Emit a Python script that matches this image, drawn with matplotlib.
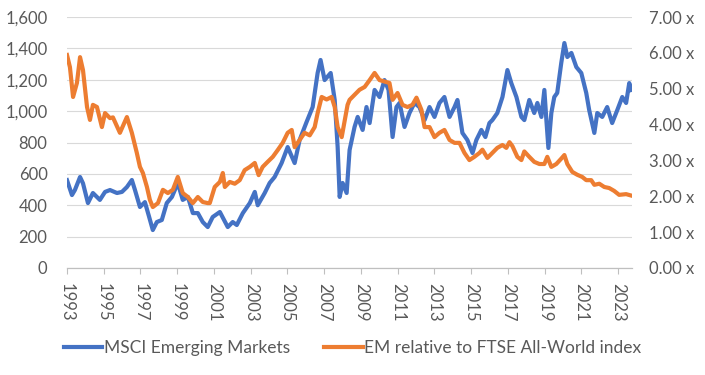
import matplotlib
matplotlib.use("Agg")
import matplotlib.pyplot as plt
from matplotlib.ticker import FuncFormatter

# MSCI Emerging Markets (left axis), decimal years
em_years = [1993.00, 1993.27, 1993.43, 1993.71, 1993.87, 1994.14, 1994.41, 1994.79, 1995.07, 1995.34,
            1995.72, 1995.99, 1996.26, 1996.53, 1996.70, 1996.97, 1997.24, 1997.46, 1997.67, 1997.89,
            1998.16, 1998.43, 1998.71, 1999.03, 1999.30, 1999.58, 1999.85, 2000.12, 2000.39, 2000.66,
            2000.93, 2001.32, 2001.75, 2002.02, 2002.24, 2002.57, 2002.95, 2003.22, 2003.38, 2003.76,
            2004.03, 2004.30, 2004.68, 2005.01, 2005.39, 2005.66, 2006.04, 2006.37, 2006.64, 2006.80,
            2007.02, 2007.35, 2007.57, 2007.73, 2007.84, 2008.00, 2008.22, 2008.38, 2008.65, 2008.82,
            2009.09, 2009.30, 2009.47, 2009.74, 2010.01, 2010.28, 2010.50, 2010.72, 2010.93, 2011.10,
            2011.37, 2011.64, 2011.91, 2012.18, 2012.46, 2012.73, 2013.00, 2013.27, 2013.54, 2013.82,
            2014.09, 2014.25, 2014.52, 2014.79, 2015.07, 2015.28, 2015.55, 2015.77, 2015.99, 2016.15,
            2016.42, 2016.70, 2016.97, 2017.18, 2017.46, 2017.73, 2017.89, 2018.16, 2018.43, 2018.60,
            2018.82, 2018.98, 2019.09, 2019.20, 2019.36, 2019.52, 2019.68, 2019.90, 2020.07, 2020.23,
            2020.45, 2020.72, 2020.99, 2021.26, 2021.42, 2021.70, 2021.86, 2022.13, 2022.40, 2022.67,
            2022.95, 2023.22, 2023.43, 2023.60, 2023.71]
em_values = [560, 465, 497, 580, 540, 414, 478, 434, 485, 497,
             478, 485, 516, 561, 497, 389, 420, 330, 242, 293,
             306, 414, 453, 542, 434, 453, 350, 350, 293, 261,
             325, 357, 261, 293, 274, 350, 414, 485, 400, 478,
             542, 580, 669, 771, 669, 816, 931, 1026, 1243, 1326,
             1198, 1243, 1071, 771, 453, 542, 478, 752, 899, 963,
             880, 1026, 924, 1135, 1090, 1198, 1135, 835, 1026, 1052,
             899, 988, 1052, 1026, 943, 1026, 963, 1052, 1090, 963,
             1026, 1071, 861, 816, 733, 816, 880, 835, 924, 943,
             988, 1090, 1262, 1179, 1090, 963, 943, 1071, 988, 1052,
             963, 1135, 943, 765, 988, 1090, 1116, 1307, 1434, 1345,
             1371, 1281, 1243, 1116, 1007, 861, 988, 963, 1026, 924,
             1007, 1090, 1052, 1179, 1135]

# EM relative to FTSE All-World index (right axis)
rel_years = [1993.00, 1993.16, 1993.33, 1993.54, 1993.71, 1993.87, 1994.09, 1994.25, 1994.41, 1994.63,
             1994.90, 1995.07, 1995.34, 1995.50, 1995.88, 1996.26, 1996.53, 1996.80, 1996.97, 1997.13,
             1997.35, 1997.51, 1997.67, 1997.95, 1998.22, 1998.49, 1998.76, 1999.03, 1999.30, 1999.58,
             1999.85, 2000.12, 2000.39, 2000.66, 2000.77, 2001.04, 2001.32, 2001.48, 2001.59, 2001.86,
             2002.13, 2002.40, 2002.67, 2002.95, 2003.22, 2003.43, 2003.65, 2003.92, 2004.20, 2004.47,
             2004.74, 2005.01, 2005.23, 2005.39, 2005.66, 2005.93, 2006.21, 2006.48, 2006.64, 2006.86,
             2007.13, 2007.40, 2007.57, 2007.73, 2007.95, 2008.11, 2008.27, 2008.38, 2008.65, 2008.92,
             2009.20, 2009.47, 2009.74, 2010.01, 2010.28, 2010.55, 2010.72, 2010.99, 2011.26, 2011.53,
             2011.80, 2012.02, 2012.29, 2012.46, 2012.73, 2013.00, 2013.27, 2013.54, 2013.82, 2014.09,
             2014.36, 2014.63, 2014.90, 2015.17, 2015.45, 2015.61, 2015.88, 2016.15, 2016.42, 2016.70,
             2016.91, 2017.08, 2017.24, 2017.51, 2017.73, 2017.89, 2018.16, 2018.43, 2018.71, 2018.98,
             2019.14, 2019.36, 2019.63, 2019.90, 2020.07, 2020.23, 2020.50, 2020.77, 2021.04, 2021.26,
             2021.53, 2021.70, 2021.97, 2022.24, 2022.51, 2022.78, 2023.05, 2023.43, 2023.71]
rel_values = [5.94, 5.60, 4.77, 5.16, 5.88, 5.52, 4.49, 4.13, 4.55, 4.49,
              3.93, 4.32, 4.18, 4.20, 3.77, 4.21, 3.77, 3.21, 2.82, 2.65,
              2.26, 1.90, 1.70, 1.81, 2.18, 2.09, 2.18, 2.54, 2.09, 1.98,
              1.81, 1.98, 1.84, 1.81, 1.81, 2.26, 2.40, 2.65, 2.26, 2.40,
              2.35, 2.45, 2.73, 2.82, 2.93, 2.59, 2.82, 2.96, 3.10, 3.29,
              3.49, 3.77, 3.85, 3.37, 3.57, 3.77, 3.70, 3.93, 4.32, 4.77,
              4.70, 4.77, 4.49, 3.93, 3.65, 4.10, 4.55, 4.69, 4.83, 4.97,
              5.05, 5.24, 5.44, 5.24, 5.20, 5.16, 4.69, 4.88, 4.55, 4.49,
              4.55, 4.75, 4.41, 3.93, 3.93, 3.65, 3.77, 3.85, 3.57, 3.49,
              3.49, 3.21, 3.01, 3.10, 3.21, 3.30, 3.07, 3.21, 3.35, 3.43,
              3.35, 3.51, 3.40, 3.10, 3.01, 3.25, 3.10, 2.96, 2.90, 2.90,
              3.10, 2.82, 2.90, 3.05, 3.15, 2.90, 2.68, 2.60, 2.54, 2.45,
              2.45, 2.32, 2.35, 2.26, 2.23, 2.15, 2.04, 2.06, 2.02]

year_ticks = list(range(1993, 2024, 2))
left_ticks = list(range(0, 1601, 200))
right_ticks = [0, 1, 2, 3, 4, 5, 6, 7]

BLUE = "#4472C4"
ORANGE = "#ED7D31"
GREY_TXT = "#595959"

plt.rcParams['font.family'] = ['Lato', 'DejaVu Sans']
plt.rcParams['font.size'] = 12

fig = plt.figure(figsize=(7.05, 3.75), dpi=100)
ax = fig.add_axes([67 / 705, 1 - 268 / 375, (632 - 67) / 705, (268 - 17) / 375])
ax2 = ax.twinx()

l1, = ax.plot(em_years, em_values, color=BLUE, lw=3.0, solid_joinstyle='round')
l2, = ax2.plot(rel_years, rel_values, color=ORANGE, lw=3.0, solid_joinstyle='round')

ax.set_xlim(1993, 2023.75)
ax.set_ylim(0, 1600)
ax2.set_ylim(0, 7)

ax.set_yticks(left_ticks)
ax.yaxis.set_major_formatter(FuncFormatter(lambda v, p: f"{int(v):,}"))
ax2.set_yticks(right_ticks)
ax2.yaxis.set_major_formatter(FuncFormatter(lambda v, p: f"{v:.2f} x"))

ax.set_xticks(year_ticks)
ax.set_xticklabels([str(y) for y in year_ticks], rotation=-90)

ax.grid(axis='y', color='#d9d9d9', lw=0.8)
ax.set_axisbelow(True)

for a in (ax, ax2):
    for s in ('top', 'left', 'right'):
        a.spines[s].set_visible(False)
    a.spines['bottom'].set_color('#bfbfbf')
    a.tick_params(colors=GREY_TXT, labelsize=12)

ax.tick_params(axis='y', length=0, pad=14)
ax2.tick_params(axis='y', length=0, pad=12)
ax.tick_params(axis='x', length=4, color='#bfbfbf', pad=7)

fig.legend([l1, l2], ["MSCI Emerging Markets", "EM relative to FTSE All-World index"],
           loc='center', bbox_to_anchor=(0.5, 0.072), ncol=2, frameon=False,
           handlelength=2.2, handletextpad=0.1, columnspacing=2.0,
           labelcolor=GREY_TXT, fontsize=12.5)

fig.savefig("out.png", dpi=100)
